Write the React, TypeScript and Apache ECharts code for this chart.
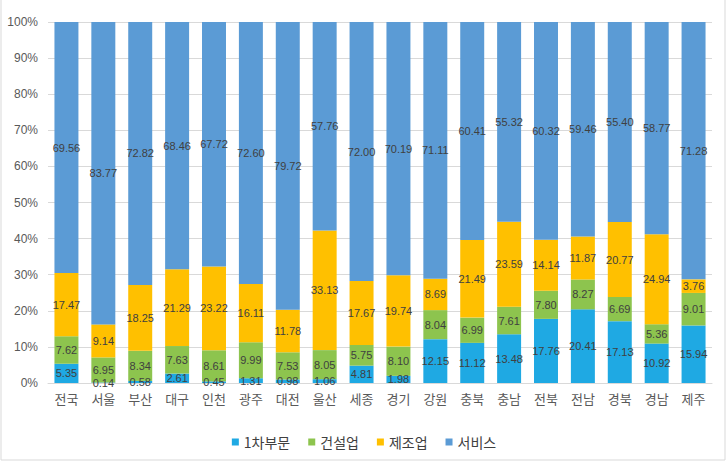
import React, { useEffect, useRef } from "react";
import * as echarts from "echarts";

const categories = ["전국", "서울", "부산", "대구", "인천", "광주", "대전", "울산", "세종", "경기", "강원", "충북", "충남", "전북", "전남", "경북", "경남", "제주"];
const primary = [5.35, 0.14, 0.58, 2.61, 0.45, 1.31, 0.98, 1.06, 4.81, 1.98, 12.15, 11.12, 13.48, 17.76, 20.41, 17.13, 10.92, 15.94];
const construction = [7.62, 6.95, 8.34, 7.63, 8.61, 9.99, 7.53, 8.05, 5.75, 8.10, 8.04, 6.99, 7.61, 7.80, 8.27, 6.69, 5.36, 9.01];
const manufacturing = [17.47, 9.14, 18.25, 21.29, 23.22, 16.11, 11.78, 33.13, 17.67, 19.74, 8.69, 21.49, 23.59, 14.14, 11.87, 20.77, 24.94, 3.76];
const services = [69.56, 83.77, 72.82, 68.46, 67.72, 72.60, 79.72, 57.76, 72.00, 70.19, 71.11, 60.41, 55.32, 60.32, 59.46, 55.40, 58.77, 71.28];
const seriesNames = ["1차부문", "건설업", "제조업", "서비스"];
const colors = ["#1fa9e3", "#8dc44e", "#ffc000", "#5b9bd5"];

export default function App() {
  const ref = useRef<HTMLDivElement>(null);
  useEffect(() => {
    if (!ref.current) return;
    const chart = echarts.init(ref.current, null, { renderer: "svg" });
    const datas = [primary, construction, manufacturing, services];
    const font = "'Liberation Sans', 'Noto Sans CJK KR', sans-serif";
    chart.setOption({
      animation: false,
      backgroundColor: "#ffffff",
      color: colors,
      textStyle: { fontFamily: font },
      grid: { left: 48, right: 16, top: 22, bottom: 79 },
      legend: {
        data: seriesNames,
        bottom: 8,
        left: "center",
        icon: "rect",
        itemWidth: 7,
        itemHeight: 7,
        itemGap: 18,
        textStyle: { fontSize: 14, color: "#404040", fontFamily: "'Noto Sans CJK KR', sans-serif" },
      },
      xAxis: {
        type: "category",
        data: categories,
        axisLine: { lineStyle: { color: "#d9d9d9" } },
        axisTick: { show: false },
        axisLabel: { color: "#595959", fontSize: 13, margin: 9, fontFamily: "'Noto Sans CJK KR', sans-serif" },
      },
      yAxis: {
        type: "value",
        min: 0,
        max: 100,
        interval: 10,
        axisLine: { show: false },
        axisTick: { show: false },
        splitLine: { lineStyle: { color: "#d9d9d9" } },
        axisLabel: { formatter: "{value}%", color: "#595959", fontSize: 12, margin: 10 },
      },
      graphic: [
        {
          type: "rect",
          shape: { x: 1, y: -2, width: 724, height: 462 },
          style: { fill: "none", stroke: "#d9d9d9", lineWidth: 1 },
          silent: true,
        },
      ],
      series: datas.map((d, i) => ({
        name: seriesNames[i],
        type: "bar",
        stack: "total",
        barWidth: "65%",
        data: d,
        itemStyle: { color: colors[i] },
        label: {
          show: true,
          position: "inside",
          color: "#404040",
          fontSize: 11,
          fontFamily: font,
          formatter: (p: any) => Number(p.value).toFixed(2),
        },
      })),
    });
    return () => chart.dispose();
  }, []);
  return <div ref={ref} style={{ position: "absolute", left: 0, top: 0, width: 728, height: 462 }} />;
}
